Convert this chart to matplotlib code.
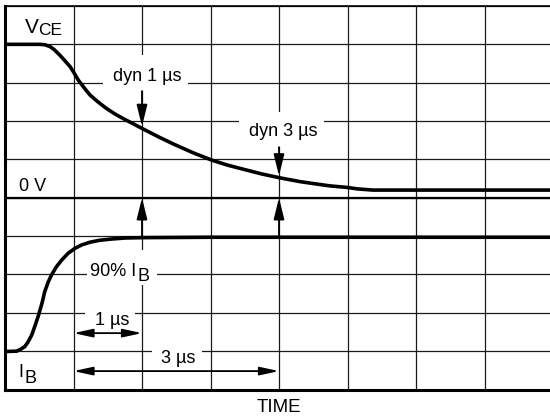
import matplotlib
matplotlib.use("Agg")
import matplotlib.pyplot as plt
from matplotlib.patches import Rectangle

plt.rcParams['font.family'] = ['Liberation Sans', 'DejaVu Sans']

# ---- data (grid divisions: x = 1 us/div, y = arbitrary divisions) ----
vce_time = [0.00, 0.51, 0.58, 0.66, 0.72, 0.80, 0.87, 0.95, 1.00, 1.07, 1.15,
            1.24, 1.35, 1.48, 1.60, 1.73, 1.87, 2.02, 2.25, 2.46, 2.75, 3.02,
            3.25, 3.53, 3.75, 4.01, 4.31, 4.50, 4.74, 4.99, 5.15, 5.37, 6.00,
            7.00, 8.00]
vce_level = [9.00, 9.00, 8.99, 8.94, 8.86, 8.72, 8.58, 8.42, 8.28, 8.07, 7.88,
             7.68, 7.51, 7.33, 7.19, 7.06, 6.93, 6.79, 6.58, 6.40, 6.17, 5.98,
             5.85, 5.72, 5.62, 5.52, 5.42, 5.37, 5.31, 5.27, 5.23, 5.20, 5.20,
             5.20, 5.20]

ib_time = [0.00, 0.17, 0.22, 0.29, 0.34, 0.39, 0.44, 0.49, 0.54, 0.58, 0.63,
           0.68, 0.75, 0.83, 0.92, 1.02, 1.12, 1.24, 1.38, 1.53, 1.75, 2.02,
           3.00, 5.00, 8.00]
ib_level = [0.99, 1.00, 1.04, 1.12, 1.25, 1.42, 1.67, 1.94, 2.25, 2.55, 2.80,
            2.99, 3.20, 3.38, 3.55, 3.68, 3.77, 3.84, 3.89, 3.92, 3.95, 3.96,
            3.97, 3.97, 3.97]

zero_volt_level = 5.0
t_ref = 1.0                 # start of delay measurement
delays = [1, 3]             # us
delay_labels = ["1 µs", "3 µs"]
dyn_labels = ["dyn 1 µs", "dyn 3 µs"]

n_xdiv, n_ydiv = 8, 10

fig = plt.figure(figsize=(5.5, 4.19), dpi=100)
ax = fig.add_axes([5 / 550, (419 - 389.5) / 419, (553 - 5) / 550, (389.5 - 6) / 419])
ax.set_xlim(0, n_xdiv)
ax.set_ylim(0, n_ydiv)

# grid
ax.set_xticks(range(n_xdiv + 1))
ax.set_yticks(range(n_ydiv + 1))
ax.tick_params(length=0, labelbottom=False, labelleft=False)
ax.grid(True, color='#1a1a1a', lw=0.9)
ax.set_axisbelow(True)
ax.spines['right'].set_visible(False)
ax.spines['top'].set_linewidth(1.2)
ax.spines['left'].set_linewidth(2.2)
ax.spines['bottom'].set_linewidth(2.2)

# 0 V reference line
ax.axhline(zero_volt_level, color='black', lw=1.6, zorder=2.5)

# white masks behind labels (hide grid lines)
masks = [(1.43, 7.78, 1.24, 0.94), (3.42, 6.32, 1.24, 0.92),
         (1.20, 2.72, 1.02, 0.92), (1.17, 1.60, 0.73, 0.68),
         (2.15, 0.61, 0.73, 0.65)]
for (mx, my, mw, mh) in masks:
    ax.add_patch(Rectangle((mx, my), mw, mh, fc='white', ec='none', zorder=2))

# curves
ax.plot(vce_time, vce_level, color='black', lw=2.6, zorder=3,
        solid_capstyle='butt', solid_joinstyle='round')
ax.plot(ib_time, ib_level, color='black', lw=2.6, zorder=3,
        solid_capstyle='butt', solid_joinstyle='round')

# arrows
def varrow(x, y0, y1):
    ax.annotate('', xy=(x, y1), xytext=(x, y0),
                arrowprops=dict(arrowstyle='-|>,head_length=1.3,head_width=0.32',
                                lw=1.3, color='black', shrinkA=0, shrinkB=0),
                zorder=4)

def harrow(x0, x1, y):
    ax.annotate('', xy=(x1, y), xytext=(x0, y),
                arrowprops=dict(arrowstyle='<|-|>,head_length=1.15,head_width=0.25',
                                lw=1.3, color='black', shrinkA=0, shrinkB=0),
                zorder=4)

dyn_tops = [7.78, 6.32]
dyn_tips = [6.86, 5.57]
for d, top, tip in zip(delays, dyn_tops, dyn_tips):
    x = t_ref + d
    varrow(x, top, tip)
    varrow(x, ib_level[-1], zero_volt_level)

harrow(t_ref, t_ref + delays[0], 1.47)
harrow(t_ref, t_ref + delays[1], 0.48)

fs = 13
# labels
ax.text(0.29, 9.30, "V", fontsize=15, ha='left', va='baseline', zorder=5)
ax.text(0.48, 9.24, "CE", fontsize=12.5, ha='left', va='baseline', zorder=5)
ax.text(2.08, 8.04, dyn_labels[0], fontsize=fs, ha='center', va='baseline', zorder=5)
ax.text(4.06, 6.60, dyn_labels[1], fontsize=fs, ha='center', va='baseline', zorder=5)
ax.text(0.20, 5.18, "0 V", fontsize=fs, ha='left', va='baseline', zorder=5)
ax.text(1.91, 2.95, "90% I", fontsize=fs, ha='right', va='baseline', zorder=5)
ax.text(1.93, 2.83, "B", fontsize=fs, ha='left', va='baseline', zorder=5)
ax.text(1.57, 1.69, delay_labels[0], fontsize=fs, ha='center', va='baseline', zorder=5)
ax.text(2.53, 0.70, delay_labels[1], fontsize=fs, ha='center', va='baseline', zorder=5)
ax.text(0.20, 0.33, "I", fontsize=fs, ha='left', va='baseline', zorder=5)
ax.text(0.29, 0.17, "B", fontsize=fs, ha='left', va='baseline', zorder=5)
ax.text(4.0, -0.59, "TIME", fontsize=13.5, ha='center', va='baseline', zorder=5,
        clip_on=False)

fig.savefig("out.png", dpi=100)
